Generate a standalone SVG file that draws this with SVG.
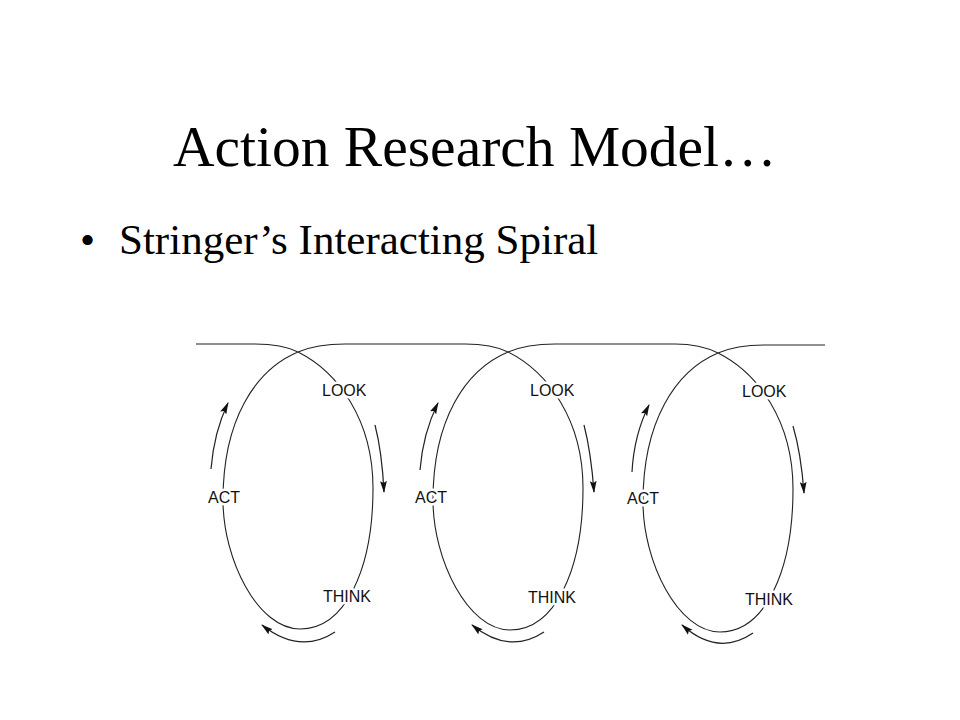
<svg xmlns="http://www.w3.org/2000/svg" width="960" height="720" viewBox="0 0 960 720">
<style>
.ttl{font-family:"Liberation Serif","Times New Roman",serif;fill:#000}
.lbl{font-family:"Liberation Sans",Arial,sans-serif;font-size:16px;fill:#111;stroke:#fff;stroke-width:5px;paint-order:stroke;stroke-linejoin:round}
.ln{fill:none;stroke:#222;stroke-width:1.1}
.ar{fill:none;stroke:#222;stroke-width:1.2;marker-end:url(#ah)}
</style>
<defs>
<marker id="ah" viewBox="0 0 12 8" refX="11" refY="4" markerWidth="12" markerHeight="8" markerUnits="userSpaceOnUse" orient="auto">
<path d="M0,0.6 L12,4 L0,7.4 L2,4 Z" fill="#111"/>
</marker>
</defs>
<rect width="960" height="720" fill="#fff"/>
<text id="title" class="ttl" x="173" y="166" font-size="57.5">Action Research Model…</text>
<g id="bullet">
<text class="ttl" x="80" y="254" font-size="43">•</text>
<text class="ttl" x="119" y="254" font-size="43">Stringer’s Interacting Spiral</text>
</g>
<g id="connectors">
<path class="ln" d="M196,344 L255,344 C272,344 286,346 298,352 C338,372 373,420 373,488 C373,570 345,629 300,629 C258,629 223,560 223,500 C223,420 255,370 298,352 C312,346 325,344 345,344 L465,344 C482,344 496,346 508,352 C548,372 583,420 583,488 C583,570 555,630 510,630 C468,630 433,560 433,500 C433,420 465,370 508,352 C522,346 535,344 555,344 L675,344 C692,344 706,347 718,353 C758,373 793,421 793,489 C793,571 765,632 720,632 C678,632 643,562 643,502 C643,422 675,371 718,353 C732,347 745,345 765,345 L825,345"/>
<path class="ar" d="M375,425 Q382,452 384,492"/>
<path class="ar" d="M211,469 Q214,432 228,403"/>
<path class="ar" d="M335,632 Q300,655 262,625"/>
<path class="ar" d="M584,425 Q591,452 594,492"/>
<path class="ar" d="M420,470 Q423,433 438,403"/>
<path class="ar" d="M544,632 Q509,655 472,625"/>
<path class="ar" d="M793,426 Q801,453 804,493"/>
<path class="ar" d="M632,472 Q634,435 649,405"/>
<path class="ar" d="M753,633 Q718,657 682,625"/>
</g>
<g id="loop1">
<text class="lbl" x="322" y="396">LOOK</text>
<text class="lbl" x="323" y="602">THINK</text>
<text class="lbl" x="208" y="503">ACT</text>
</g>
<g id="loop2">
<text class="lbl" x="530" y="396">LOOK</text>
<text class="lbl" x="528" y="603">THINK</text>
<text class="lbl" x="415" y="503">ACT</text>
</g>
<g id="loop3">
<text class="lbl" x="742" y="397">LOOK</text>
<text class="lbl" x="745" y="605">THINK</text>
<text class="lbl" x="627" y="504">ACT</text>
</g>
</svg>
